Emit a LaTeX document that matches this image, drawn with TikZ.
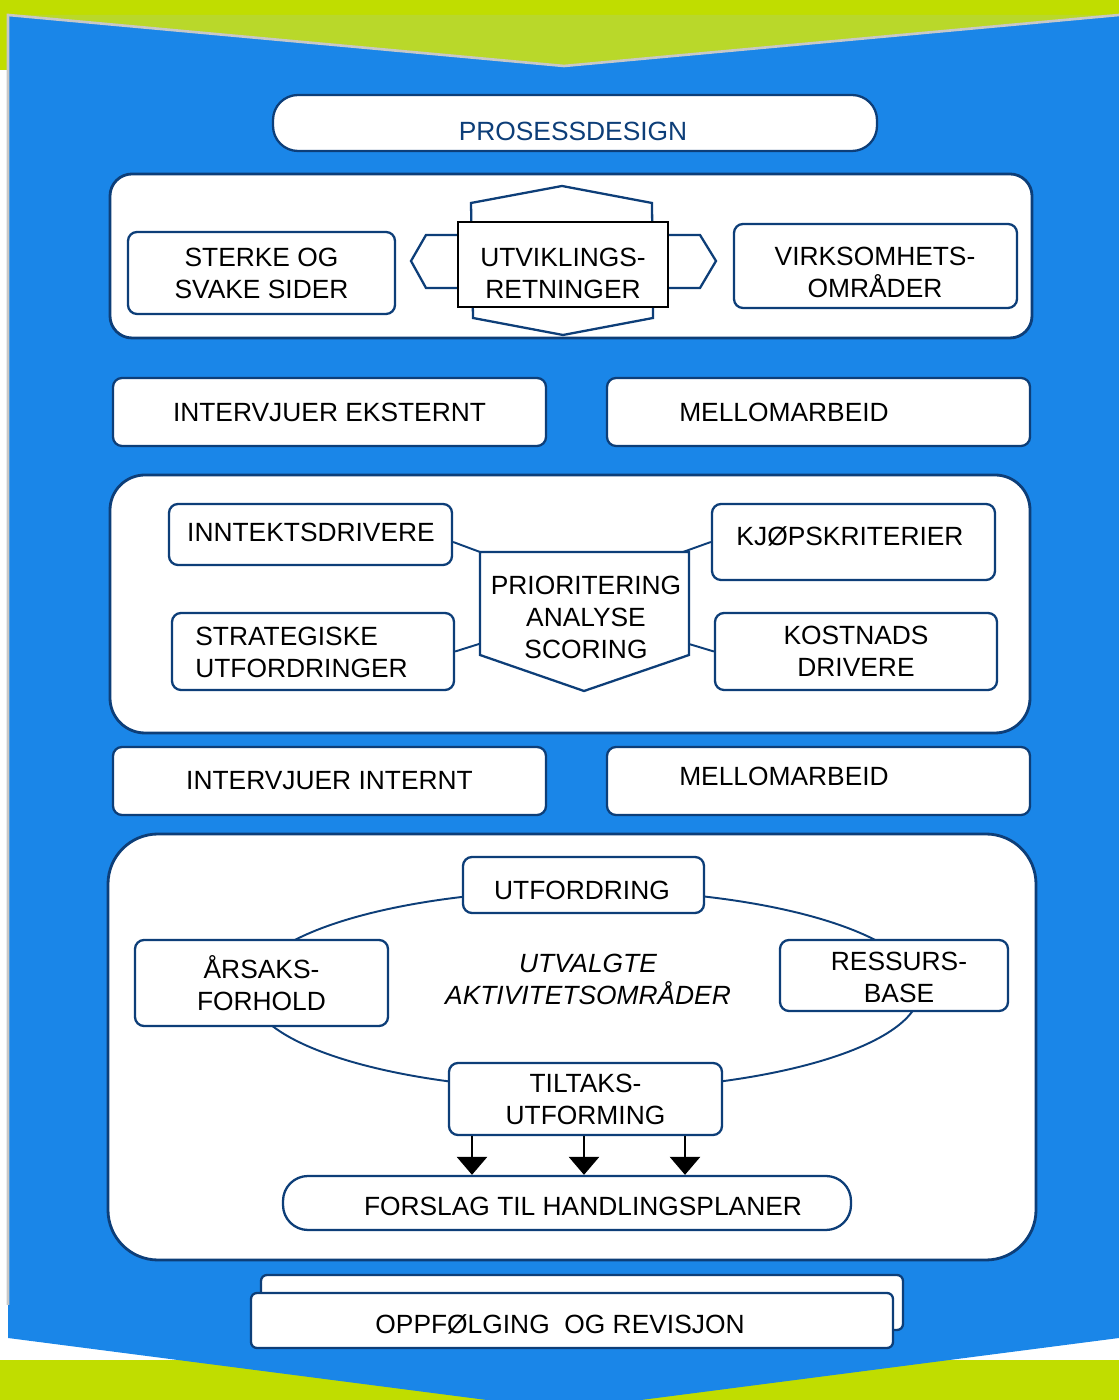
\documentclass[tikz,border=0pt]{standalone}
\usepackage{fontspec}
\setmainfont{Liberation Sans}
\usetikzlibrary{arrows.meta}

\definecolor{skyblue}{HTML}{1A86E8}
\definecolor{lime}{HTML}{C0DD00}
\definecolor{pale}{HTML}{B9D82A}
\definecolor{navy}{HTML}{0D3E78}
\definecolor{edge}{HTML}{C8C8C8}

\begin{document}
\begin{tikzpicture}
\tikzset{every node/.style={font=\fontsize{15}{18.2}\selectfont, align=center},
    panel/.style={draw=navy, fill=white, line width=1.6pt},
    box/.style={draw=navy, fill=white, line width=1.3pt, rounded corners=0.18cm},
    pill/.style={draw=navy, fill=white, line width=1.3pt, rounded corners=0.5cm},
    link/.style={draw=navy, line width=1.1pt},
    drop/.style={-{Triangle[width=0.6cm,length=0.36cm]}, line width=1.6pt}}

\useasboundingbox (0, 0) rectangle (22.38, 28);
\fill[lime] (0, 26.6) rectangle (22.38, 28);
\fill[lime] (0, 0) rectangle (22.38, 0.8);
\fill[pale] (0.16, 27.7) -- (22.38, 27.7) -- (11.28, 26.68) -- cycle;
\fill[skyblue] (0.16, 27.7) -- (11.28, 26.68) -- (22.38, 27.7) -- (22.38, 1.24) -- (11.28, -0.2) -- (0.16, 1.24) -- cycle;
\draw[edge, line width=1.5pt] (0.16, 1.9) -- (0.16, 27.7) -- (11.28, 26.68) -- (22.38, 27.7);

\node[pill, minimum width=12.08cm, minimum height=1.12cm] (prosess) at (11.5, 25.54) {};
    \node[text=navy] (t-prosess) at (11.46, 25.38) {PROSESSDESIGN};

% utviklingsretninger
\node[panel, rounded corners=0.44cm, minimum width=18.44cm, minimum height=3.28cm] (panelA) at (11.42, 22.88) {};
\node[box, minimum width=5.34cm, minimum height=1.64cm] (sterke) at (5.23, 22.54) {STERKE OG\\SVAKE SIDER};
\draw[navy, line width=1.3pt, fill=white] (9.42, 23.94) -- (11.24, 24.28) -- (13.04, 23.94) -- (13.06, 21.64) -- (11.26, 21.30) -- (9.46, 21.64) -- cycle;
\draw[navy, line width=1.3pt, fill=white] (8.22, 22.78) -- (8.52, 23.30) -- (14.0, 23.30) -- (14.32, 22.78) -- (14.0, 22.24) -- (8.52, 22.24) -- cycle;
\node[draw=black, fill=white, line width=1.6pt, minimum width=4.2cm, minimum height=1.7cm] (utvikling) at (11.26, 22.71) {};
    \node (t-utvikling) at (11.26, 22.54) {UTVIKLINGS-\\RETNINGER};
\node[box, minimum width=5.66cm, minimum height=1.68cm] (virksomhet) at (17.51, 22.68) {};
    \node (t-virksomhet) at (17.5, 22.56) {VIRKSOMHETS-\\OMRÅDER};

\node[box, minimum width=8.66cm, minimum height=1.36cm] (eksternt) at (6.59, 19.76) {INTERVJUER EKSTERNT};
\node[box, minimum width=8.46cm, minimum height=1.36cm] (mellom1) at (16.37, 19.76) {};
    \node (t-mellom1) at (15.68, 19.76) {MELLOMARBEID};

% prioritering
\node[panel, rounded corners=0.7cm, minimum width=18.4cm, minimum height=5.16cm] (panelB) at (11.4, 15.92) {};
\node[box, minimum width=5.66cm, minimum height=1.22cm] (inntekt) at (6.21, 17.31) {};
    \node (t-inntekt) at (6.22, 17.36) {INNTEKTSDRIVERE};
\node[box, minimum width=5.66cm, minimum height=1.52cm] (kjop) at (17.07, 17.16) {};
    \node (t-kjop) at (17.0, 17.28) {KJØPSKRITERIER};
\node[box, minimum width=5.64cm, minimum height=1.54cm] (strategi) at (6.26, 14.97) {};
    \node[align=left, anchor=west, inner sep=0pt] (t-strategi) at (3.9, 14.96) {STRATEGISKE\\UTFORDRINGER};
\node[box, minimum width=5.64cm, minimum height=1.54cm] (kostnad) at (17.12, 14.97) {KOSTNADS\\DRIVERE};

\coordinate (pNW) at (9.6, 16.96);
\coordinate (pNE) at (13.66, 16.96);
\coordinate (pW) at (9.58, 15.12);
\coordinate (pE) at (13.78, 15.12);
\draw[navy, line width=1.3pt, fill=white] (9.6, 16.96) -- (13.78, 16.96) -- (13.78, 14.9) -- (11.68, 14.18) -- (9.6, 14.9) -- cycle;
    \node (prio) at (11.72, 15.66) {PRIORITERING\\ANALYSE\\SCORING};
\draw[link] ([yshift=-0.15cm]inntekt.east) -- (pNW);
\draw[link] (kjop.west) -- (pNE);
\draw[link] (strategi.east) -- (pW);
\draw[link] (kostnad.west) -- (pE);

\node[box, minimum width=8.66cm, minimum height=1.36cm] (internt) at (6.59, 12.38) {INTERVJUER INTERNT};
\node[box, minimum width=8.46cm, minimum height=1.36cm] (mellom2) at (16.37, 12.38) {};
    \node (t-mellom2) at (15.68, 12.48) {MELLOMARBEID};

% aktivitetsomraader
\node[panel, rounded corners=1cm, minimum width=18.56cm, minimum height=8.52cm] (panelC) at (11.44, 7.06) {};
\draw[navy, line width=1.1pt] (11.7, 8.2) ellipse [x radius=6.7cm, y radius=2cm];
\node[box, minimum width=4.82cm, minimum height=1.12cm] (utfordring) at (11.67, 10.3) {};
    \node (t-utfordring) at (11.64, 10.2) {UTFORDRING};
\node[box, minimum width=5.06cm, minimum height=1.72cm] (aarsak) at (5.23, 8.34) {ÅRSAKS-\\FORHOLD};
\node[box, minimum width=4.56cm, minimum height=1.42cm] (ressurs) at (17.88, 8.49) {};
    \node (t-ressurs) at (17.98, 8.46) {RESSURS-\\BASE};
\node[font=\fontsize{15}{18.2}\selectfont\itshape] (utvalgte) at (11.76, 8.42) {UTVALGTE\\AKTIVITETSOMRÅDER};
\node[box, minimum width=5.46cm, minimum height=1.44cm] (tiltak) at (11.71, 6.02) {TILTAKS-\\UTFORMING};
\node[pill, minimum width=11.36cm, minimum height=1.08cm] (forslag) at (11.34, 3.94) {};
    \node (t-forslag) at (11.66, 3.88) {FORSLAG TIL HANDLINGSPLANER};
\foreach \dx in {-2.27, -0.03, 1.99}
    \draw[drop] ([xshift=\dx cm]tiltak.south) -- ([xshift=\dx cm]tiltak.south |- forslag.north);

\node[box, rounded corners=0.12cm, minimum width=12.84cm, minimum height=1.1cm] (opp-back) at (11.64, 1.95) {};
\node[box, rounded corners=0.12cm, minimum width=12.84cm, minimum height=1.1cm] (opp) at (11.44, 1.59) {};
    \node (t-opp) at (11.2, 1.52) {OPPFØLGING~ OG REVISJON};

\end{tikzpicture}
\end{document}
